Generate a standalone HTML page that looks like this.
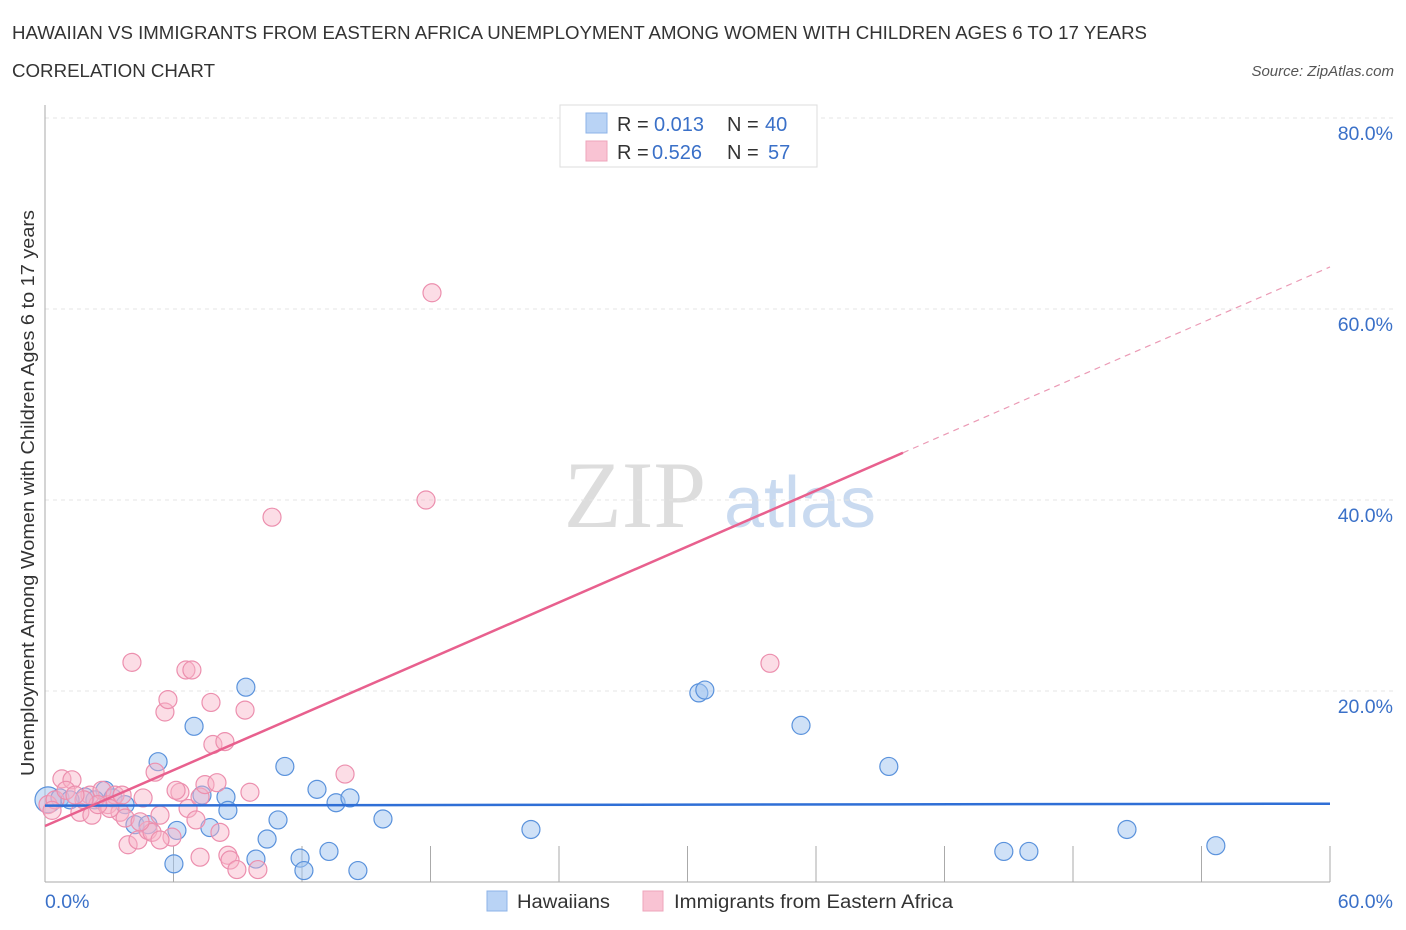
<!DOCTYPE html>
<html><head><meta charset="utf-8"><style>
body{margin:0;background:#fff;font-family:"Liberation Sans",sans-serif;}
#wrap{position:relative;width:1406px;height:930px;overflow:hidden;}
</style></head><body>
<div id="wrap">
<svg id="chart" width="1406" height="930">
<text x="12" y="39" font-size="18" fill="#333" textLength="1135" lengthAdjust="spacingAndGlyphs">HAWAIIAN VS IMMIGRANTS FROM EASTERN AFRICA UNEMPLOYMENT AMONG WOMEN WITH CHILDREN AGES 6 TO 17 YEARS</text>
<text x="12" y="77" font-size="18" fill="#333" textLength="203" lengthAdjust="spacingAndGlyphs">CORRELATION CHART</text>
<text x="1394" y="76" font-size="15" fill="#555" font-style="italic" text-anchor="end">Source: ZipAtlas.com</text>
<text x="34" y="493" font-size="18" fill="#333" text-anchor="middle" textLength="566" lengthAdjust="spacingAndGlyphs" transform="rotate(-90 34 493)">Unemployment Among Women with Children Ages 6 to 17 years</text>
<g><text x="635" y="527" font-size="95" fill="#ddd" font-family="Liberation Serif,serif" text-anchor="middle">ZIP</text><text x="800" y="527" font-size="72" fill="#c9daf0" text-anchor="middle">atlas</text></g>
<g id="grid"></g><g id="axes"></g><g id="marks"></g>
<g>
<rect x="560" y="105" width="257" height="62" fill="#fff" stroke="#ddd"/>
<rect x="586" y="113" width="21" height="20" fill="#b9d3f5" stroke="#8db3e8"/>
<rect x="586" y="141" width="21" height="20" fill="#f9c3d3" stroke="#eea4bb"/>
<text font-size="20" y="131" fill="#333"><tspan x="617">R = </tspan><tspan x="654" fill="#3a70c8">0.013</tspan><tspan x="727">N = </tspan><tspan x="765" fill="#3a70c8">40</tspan></text>
<text font-size="20" y="159" fill="#333"><tspan x="617">R = </tspan><tspan x="652" fill="#3a70c8">0.526</tspan><tspan x="727">N = </tspan><tspan x="768" fill="#3a70c8">57</tspan></text>
</g>
<g>
<rect x="487" y="891" width="20" height="20" fill="#b9d3f5" stroke="#8db3e8"/>
<text x="517" y="908" font-size="19" fill="#333" textLength="93" lengthAdjust="spacingAndGlyphs">Hawaiians</text>
<rect x="643" y="891" width="20" height="20" fill="#f9c3d3" stroke="#eea4bb"/>
<text x="674" y="908" font-size="19" fill="#333" textLength="279" lengthAdjust="spacingAndGlyphs">Immigrants from Eastern Africa</text>
</g>
</svg>
</div>
<script>
const yTicks=[20,40,60,80];
const yTickLabels=["20.0%","40.0%","60.0%","80.0%"];
const xTicks=[0,6,12,18,24,30,36,42,48,54,60];
const xTickLabels=["0.0%","60.0%"];
const blueX=[0.14,0.70,1.87,2.80,3.17,3.74,4.20,4.81,5.28,6.16,6.96,7.33,7.70,8.45,8.54,9.38,9.85,10.37,10.88,11.20,11.91,12.09,12.70,13.26,13.59,14.24,14.61,15.78,22.69,30.53,30.81,35.30,39.40,44.77,45.94,50.52,54.67,6.02,1.17,2.33];
const blueY=[8.6,8.8,8.9,9.6,8.8,8.1,6.0,6.0,12.6,5.4,16.3,9.1,5.7,8.9,7.5,20.4,2.4,4.5,6.5,12.1,2.5,1.2,9.7,3.2,8.3,8.8,1.2,6.6,5.5,19.8,20.1,16.4,12.1,3.2,3.2,5.5,3.8,1.9,8.6,8.6];
const pinkX=[0.14,0.47,0.79,1.26,1.63,2.10,2.19,2.66,2.94,3.27,3.50,3.74,3.88,4.06,4.34,4.58,4.81,5.00,5.14,5.37,5.60,5.74,5.93,6.30,6.58,6.86,6.68,7.05,7.24,7.47,7.75,7.84,8.03,8.17,8.40,8.54,8.64,8.96,9.34,9.57,9.94,10.60,14.01,17.79,18.07,33.85,7.24,3.03,2.47,0.98,4.44,6.12,3.60,1.82,1.40,0.33,5.37];
const pinkY=[8.1,8.6,10.8,10.7,7.3,9.1,7.0,9.6,8.1,9.1,7.3,6.7,3.9,23.0,4.4,8.8,5.4,5.2,11.5,7.0,17.8,19.1,4.7,9.4,22.2,22.2,7.7,6.5,8.9,10.2,18.8,14.4,10.4,5.2,14.7,2.8,2.3,1.3,18.0,9.4,1.3,38.2,11.3,40.0,61.7,22.9,2.6,7.7,8.1,9.6,6.3,9.6,9.1,8.6,9.1,7.5,4.4];
const blueTrend=[8.0,8.2];
const pinkTrend=[5.86,64.4];
const pinkSolidEnd=40.06;
const NS="http://www.w3.org/2000/svg";
const sx=v=>45+v/60*1285;
const sy=v=>882-v/20*191;
function mk(t,a,p){const e=document.createElementNS(NS,t);for(const k in a)e.setAttribute(k,a[k]);p.appendChild(e);return e;}
const grid=document.getElementById('grid'),axes=document.getElementById('axes'),marks=document.getElementById('marks');
yTicks.forEach((v,i)=>{
 const l=mk('line',{x1:45,x2:1394,y1:sy(v),y2:sy(v),stroke:'#e4e4e4','stroke-dasharray':'4,4'},grid);
 
 
 const t=mk('text',{x:1393,y:sy(v)+22,'font-size':19.5,fill:'#3a70c8','text-anchor':'end'},axes);
 t.textContent=yTickLabels[i];
 
 
});
const ax=mk('line',{x1:45,x2:45,y1:105,y2:882,stroke:'#aaa'},axes);


const bx=mk('line',{x1:45,x2:1330,y1:882,y2:882,stroke:'#aaa'},axes);


xTicks.forEach(v=>{if(v===0)return;
 const t=mk('line',{x1:sx(v),x2:sx(v),y1:846,y2:882,stroke:'#aaa'},axes);
 
 
});
[[0,'start',45],[60,'end',1393]].forEach((d,i)=>{
 const t=mk('text',{x:d[2],y:908,'font-size':19.5,fill:'#3a70c8','text-anchor':d[1]},axes);
 t.textContent=xTickLabels[i];
 
 
});
blueX.forEach((x,i)=>{
 const c=mk('circle',{cx:sx(x),cy:sy(blueY[i]),r:i===0?13:9,fill:'rgba(160,195,240,0.5)',stroke:'#5a92dc','stroke-width':1.2},marks);
 
 
});
pinkX.forEach((x,i)=>{
 const c=mk('circle',{cx:sx(x),cy:sy(pinkY[i]),r:9,fill:'rgba(248,180,200,0.45)',stroke:'#ec8fae','stroke-width':1.2},marks);
 
 
});
const bl=mk('line',{x1:sx(0),x2:sx(60),y1:sy(blueTrend[0]),y2:sy(blueTrend[1]),stroke:'#2f6fd6','stroke-width':2.5},marks);


const pm=pinkTrend[0]+(pinkTrend[1]-pinkTrend[0])*pinkSolidEnd/60;
const pl=mk('line',{x1:sx(0),x2:sx(pinkSolidEnd),y1:sy(pinkTrend[0]),y2:sy(pm),stroke:'#e8608e','stroke-width':2.5},marks);


const pd=mk('line',{x1:sx(pinkSolidEnd),x2:sx(60),y1:sy(pm),y2:sy(pinkTrend[1]),stroke:'#eb9ab5','stroke-width':1.2,'stroke-dasharray':'6,5'},marks);


</script>
</body></html>
